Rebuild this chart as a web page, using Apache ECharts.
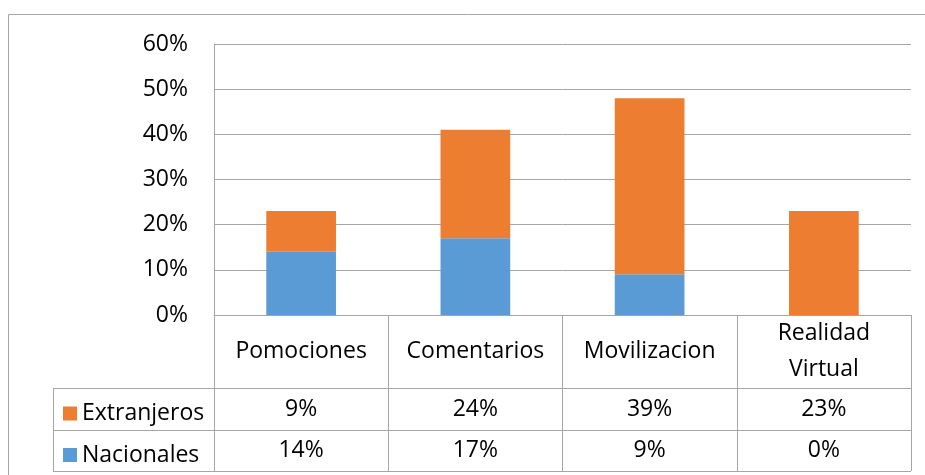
<!DOCTYPE html>
<html>
<head>
<meta charset="utf-8">
<script src="https://cdn.jsdelivr.net/npm/echarts@6/dist/echarts.min.js"></script>
<style>
  html, body { margin: 0; padding: 0; background: #fff; }
  #chart { width: 925px; height: 475px; }
</style>
</head>
<body>
<div id="chart"></div>
<script>
const categories = ['Pomociones', 'Comentarios', 'Movilizacion', 'Realidad Virtual'];
const nacionales = [14, 17, 9, 0];
const extranjeros = [9, 24, 39, 23];
const yTicks = [0, 10, 20, 30, 40, 50, 60];
const seriesNames = ['Extranjeros', 'Nacionales'];

const FONT = '"Open Sans", sans-serif';
const LINE = '#a6a6a6';

// layout of plot + data table
const gridLeft = 214, gridRight = 911, gridTop = 44, gridBottom = 315;
const rowHeader = 388, row1 = 430, row2 = 471, legendLeft = 53;

const chart = echarts.init(document.getElementById('chart'));

const hline = (y, x1, x2) => ({
  type: 'line',
  shape: { x1: x1, y1: y + 0.5, x2: x2, y2: y + 0.5 },
  style: { stroke: LINE, lineWidth: 1 },
  silent: true,
});
const vline = (x, y1, y2) => ({
  type: 'line',
  shape: { x1: x + 0.5, y1: y1, x2: x + 0.5, y2: y2 },
  style: { stroke: LINE, lineWidth: 1 },
  silent: true,
});

// one legend per table row so each key sits in its own row
const rowTops = [rowHeader, row1];
const rowBottoms = [row1, row2];
const legends = seriesNames.map((name, i) => ({
  left: 63,
  top: (rowTops[i] + rowBottoms[i]) / 2 - 7,
  padding: 0,
  itemWidth: 14,
  itemHeight: 14,
  itemGap: 0,
  icon: 'rect',
  data: [name],
  textStyle: { fontFamily: FONT, fontSize: 23, color: '#000', lineHeight: 14 },
  selectedMode: false,
}));

const option = {
  animation: false,
  backgroundColor: '#fff',
  textStyle: { fontFamily: FONT },
  grid: {
    left: gridLeft,
    right: 925 - gridRight,
    top: gridTop,
    bottom: 475 - gridBottom,
    containLabel: false,
    outerBoundsMode: 'none',
  },
  legend: legends,
  xAxis: {
    type: 'category',
    data: categories,
    axisLine: { show: true, lineStyle: { color: LINE, width: 1 } },
    axisTick: { show: true, length: row2 - gridBottom, lineStyle: { color: LINE } },
    axisLabel: {
      interval: 0,
      margin: 0,
      color: '#000',
      fontFamily: FONT,
      fontSize: 23,
      formatter: function (value, idx) {
        const words = value.split(' ');
        let head;
        if (words.length > 1) {
          head = words.map(w => '{h2|' + w + '}').join('\n');
        } else {
          head = '{h|' + value + '}';
        }
        return head + '\n{a|' + extranjeros[idx] + '%}\n{b|' + nacionales[idx] + '%}';
      },
      rich: {
        h: { lineHeight: rowHeader - gridBottom, fontSize: 23, fontFamily: FONT, color: '#000' },
        h2: { lineHeight: (rowHeader - gridBottom) / 2, fontSize: 23, fontFamily: FONT, color: '#000' },
        a: { lineHeight: row1 - rowHeader, fontSize: 23, fontFamily: FONT, color: '#000' },
        b: { lineHeight: row2 - row1, fontSize: 23, fontFamily: FONT, color: '#000' },
      },
    },
    splitLine: { show: false },
  },
  yAxis: {
    type: 'value',
    min: 0,
    max: 60,
    interval: 10,
    axisLine: { show: true, lineStyle: { color: LINE, width: 1 } },
    axisTick: { show: false },
    splitLine: { show: true, lineStyle: { color: LINE, width: 1 } },
    axisLabel: {
      margin: 26,
      color: '#000',
      fontFamily: FONT,
      fontSize: 23,
      formatter: v => (yTicks.indexOf(v) >= 0 ? v + '%' : ''),
    },
  },
  series: [
    {
      name: 'Nacionales',
      type: 'bar',
      stack: 'total',
      barWidth: '40%',
      itemStyle: { color: '#5b9bd5' },
      data: nacionales,
    },
    {
      name: 'Extranjeros',
      type: 'bar',
      stack: 'total',
      barWidth: '40%',
      itemStyle: { color: '#ed7d31' },
      data: extranjeros,
    },
  ],
  graphic: [
    {
      type: 'rect',
      shape: { x: 8.5, y: 14.5, width: 2000, height: 2000 },
      style: { stroke: LINE, fill: null, lineWidth: 1 },
      silent: true,
      z: -1,
    },
    hline(rowHeader, legendLeft, gridRight),
    hline(row1, legendLeft, gridRight),
    hline(row2, legendLeft, gridRight),
    vline(legendLeft, rowHeader, row2),
  ],
};

chart.setOption(option);
</script>
</body>
</html>
